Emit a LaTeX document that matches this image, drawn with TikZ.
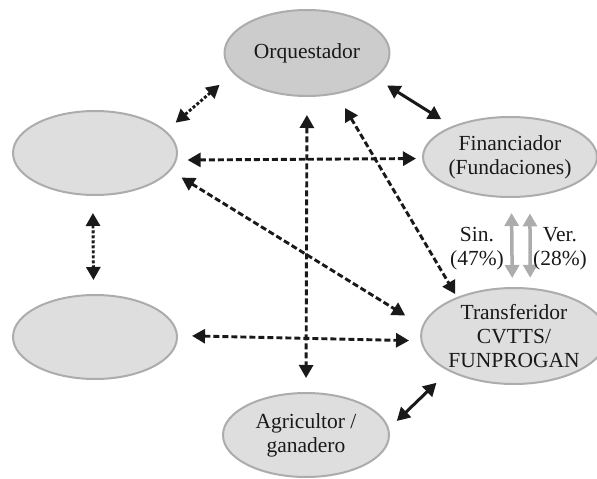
\documentclass[tikz,border=0pt]{standalone}
\usepackage{fontspec}
\setmainfont{Liberation Serif}
\usetikzlibrary{shapes.geometric,arrows.meta}

\definecolor{rim}{RGB}{172,172,172}
\definecolor{hubfill}{RGB}{204,204,204}
\definecolor{actorfill}{RGB}{222,222,222}
\definecolor{ink}{RGB}{25,25,25}
\definecolor{flowgray}{RGB}{172,172,172}

\begin{document}
\begin{tikzpicture}[x=1pt,y=-1pt,
  label text/.style={font=\fontsize{21.5}{24}\selectfont, text=ink, align=center},
  actor/.style={ellipse, draw=rim, line width=2pt, fill=actorfill,
    inner sep=0pt, outer sep=0pt, label text},
  hub/.style={actor, fill=hubfill},
  bihead/.style={{Triangle[length=13pt,width=14pt]}-{Triangle[length=13pt,width=14pt]}},
  solidlink/.style={bihead, draw=ink, line width=3pt},
  dashlink/.style={bihead, draw=ink, line width=2.9pt, dash pattern=on 6pt off 3pt},
  dotlink/.style={bihead, draw=ink, line width=2.9pt, dash pattern=on 3pt off 2pt},
  graylink/.style={{Triangle[length=13pt,width=14pt]}-{Triangle[length=13pt,width=14pt]},
    draw=flowgray, line width=3.5pt},
]
\useasboundingbox (0,0) rectangle (597,479);

% actors
\node[hub, minimum width=165pt, minimum height=86pt] (orq) at (307,53) {Orquestador};
\node[actor, minimum width=164pt, minimum height=84pt] (lt) at (95,153) {};
\node[actor, minimum width=164pt, minimum height=84pt] (lb) at (95,337) {};
\node[actor, minimum width=146pt, minimum height=80pt] (fin) at (510,157) {Financiador\\(Fundaciones)};
\node[actor, minimum width=158pt, minimum height=96pt] (tra) at (514,336) {Transferidor\\CVTTS/\\FUNPROGAN};
\node[actor, minimum width=166pt, minimum height=84pt] (agr) at (306,435) {Agricultor /\\ganadero};

% relations
\draw[dotlink, shorten <=18.6pt, shorten >=13.5pt] (orq.195.6) -- (lt.17.8);
\draw[solidlink, shorten <=14.7pt, shorten >=14pt] (orq.340.7) -- (fin.152.8);
\draw[dashlink, shorten <=11.8pt, shorten >=7.1pt] (lt.355.8) -- (fin.181.6);
\draw[dashlink, shorten <=13.9pt, shorten >=20.8pt] (lt.347.3) -- (tra.174.7);
\draw[dotlink, shorten <=18pt, shorten >=15pt] (lt.267.3) -- (lb.92.7);
\draw[dashlink, shorten <=15.1pt, shorten >=12.5pt] (lb.1.7) -- (tra.183.9);
\draw[dashlink, shorten <=19pt, shorten >=15pt] (orq.south) -- (agr.north);
\draw[dashlink, shorten <=17.2pt, shorten >=4.4pt] (orq.306) -- (tra.146.8);
\draw[solidlink, shorten <=11.9pt, shorten >=17.8pt] (agr.4.2) -- (tra.208.6);

% funding flows between financier and transferor
\draw[graylink, shorten <=16pt, shorten >=10pt] (fin.272.9) -- (tra.92.4);
\draw[graylink, shorten <=17.5pt, shorten >=11pt] (fin.297.5) -- (tra.71.2);
\node[label text] (sin) at (477,249) {Sin.\\(47\%)};
\node[label text] (ver) at (560,249) {Ver.\\(28\%)};
\end{tikzpicture}
\end{document}
